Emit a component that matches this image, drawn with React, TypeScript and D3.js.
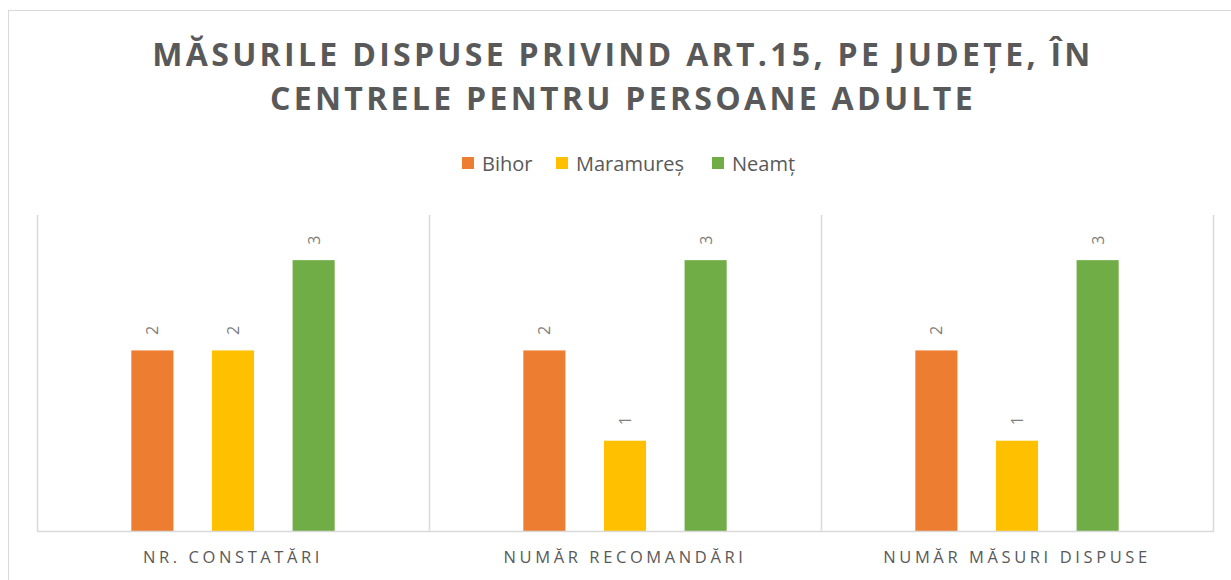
import React from "react";
import * as d3 from "d3";

const categories = ["NR. CONSTATĂRI", "NUMĂR RECOMANDĂRI", "NUMĂR MĂSURI DISPUSE"];
const seriesNames = ["Bihor", "Maramureș", "Neamț"];
const seriesColors = ["#ED7D31", "#FFC000", "#70AD47"];
const bihor = [2, 2, 2];
const maramures = [2, 1, 1];
const neamt = [3, 3, 3];
const titleLines = ["MĂSURILE DISPUSE PRIVIND ART.15, PE JUDEȚE, ÎN", "CENTRELE PENTRU PERSOANE ADULTE"];

const W = 1231;
const H = 580;
const plotLeft = 37;
const plotRight = 1213;
const plotTop = 215;
const plotBottom = 531;
const FONT = "'Open Sans', 'Noto Sans', sans-serif";

export default function App() {
  const series = [bihor, maramures, neamt];
  const x = d3.scaleBand<string>().domain(categories).range([plotLeft, plotRight]).padding(0);
  const y = d3.scaleLinear().domain([0, 3.5]).range([plotBottom, plotTop]);
  const inner = d3
    .scaleBand<string>()
    .domain(seriesNames)
    .range([0, x.bandwidth()])
    .paddingInner(0.478)
    .paddingOuter(1.17);
  const barW = inner.bandwidth();

  const legendItems = [
    { name: seriesNames[0], x: 462 },
    { name: seriesNames[1], x: 556 },
    { name: seriesNames[2], x: 712 },
  ];

  return (
    <svg width={W} height={H} style={{ position: "absolute", left: 0, top: 0, display: "block" }}>
      <rect x={0} y={0} width={W} height={H} fill="#fff" />
      <rect x={8.5} y={10.5} width={1240} height={600} fill="#fff" stroke="#d9d9d9" strokeWidth={1} />
      {titleLines.map((t, i) => (
        <text
          key={i}
          x={623}
          y={66 + i * 44}
          textAnchor="middle"
          fontFamily={FONT}
          fontWeight={700}
          fontSize={32}
          letterSpacing={3.3}
          fill="#595959"
        >
          {t}
        </text>
      ))}
      {legendItems.map((l, i) => (
        <g key={l.name}>
          <rect x={l.x} y={157} width={12} height={12} fill={seriesColors[i]} />
          <text x={l.x + 20} y={170.5} fontFamily={FONT} fontSize={20} fill="#595959">
            {l.name}
          </text>
        </g>
      ))}
      {[...categories.map((c) => x(c) as number), plotRight].map((vx, i) => (
        <line key={i} x1={vx + 0.5} x2={vx + 0.5} y1={plotTop} y2={plotBottom} stroke="#d9d9d9" strokeWidth={1.5} />
      ))}
      {categories.map((c, ci) => (
        <g key={c}>
          {series.map((s, si) => {
            const bx = (x(c) as number) + (inner(seriesNames[si]) as number);
            const by = y(s[ci]);
            return (
              <g key={si}>
                <rect x={bx} y={by} width={barW} height={plotBottom - by} fill={seriesColors[si]} />
                <text
                  transform={`translate(${bx + barW / 2 + 6},${by - 20}) rotate(-90)`}
                  textAnchor="middle"
                  fontFamily={FONT}
                  fontSize={16}
                  fill="#7f7f7f"
                >
                  {s[ci]}
                </text>
              </g>
            );
          })}
          <text
            x={(x(c) as number) + x.bandwidth() / 2}
            y={563}
            textAnchor="middle"
            fontFamily={FONT}
            fontSize={16.5}
            letterSpacing={3.6}
            fill="#595959"
          >
            {c}
          </text>
        </g>
      ))}
      <line x1={plotLeft} x2={plotRight + 1} y1={plotBottom + 0.5} y2={plotBottom + 0.5} stroke="#d9d9d9" strokeWidth={1.5} />
    </svg>
  );
}
